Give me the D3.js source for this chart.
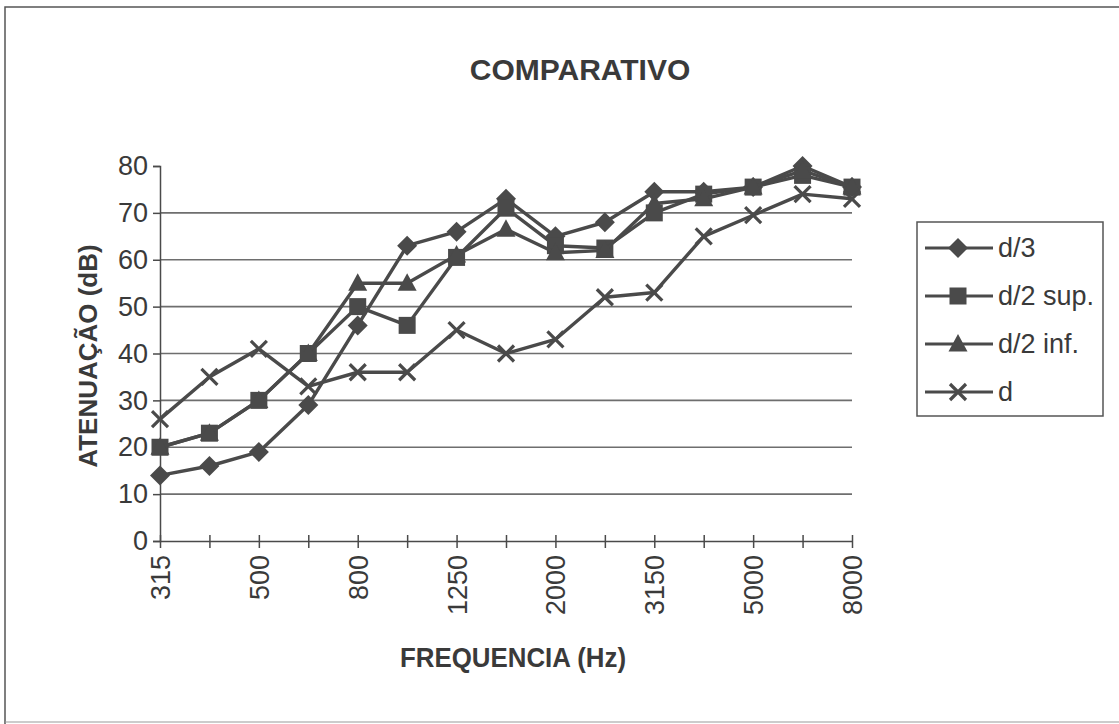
<!DOCTYPE html>
<html>
<head>
<meta charset="utf-8">
<script src="https://cdnjs.cloudflare.com/ajax/libs/d3/7.8.5/d3.min.js"></script>
<style>
  body { margin: 0; background: #fff; }
  svg { display: block; }
  text { font-family: "Liberation Sans", Arial, sans-serif; fill: #3a3a3a; }
</style>
</head>
<body>
<div id="chart"></div>
<script>

/**
 * Comparativo de atenuacao por frequencia, line chart with d3.js
 */

var width = 1119;
var height = 724;

var frequencias = ["315","400","500","630","800","1000","1250","1600","2000","2500","3150","4000","5000","6300","8000"];
var rotulosX = ["315","500","800","1250","2000","3150","5000","8000"];
var ticksY = [0,10,20,30,40,50,60,70,80];

var serieD3    = [14,16,19,29,46,63,66,73,65,68,74.5,74.5,75.5,80,75.5];
var serieD2sup = [20,23,30,40,50,46,60.5,71,63,62.5,70,74,75.5,78,75.5];
var serieD2inf = [20,23,30,40,55,55,61,66.5,61.5,62,72,73,75.5,79,75.5];
var serieD     = [26,35,41,33,36,36,45,40,43,52,53,65,69.5,74,73];

var nomes = ["d/3","d/2 sup.","d/2 inf.","d"];
var simbolos = ["diamond","square","triangle","cross"];

var series = [serieD3, serieD2sup, serieD2inf, serieD].map((v,i) => ({
    nome: nomes[i], simbolo: simbolos[i], valores: v
}));

var cor = "#4a4a4a";
var plot = {left: 160, right: 852, top: 166, bottom: 541};

var x = d3.scalePoint()
        .domain(frequencias)
        .range([plot.left, plot.right]);
var y = d3.scaleLinear()
        .domain([0, 80])
        .range([plot.bottom, plot.top]);

var svg = d3.select("#chart")
        .append("svg")
        .attr("width", width)
        .attr("height", height);

/// moldura do grafico
svg.append("path")
    .attr("d", "M5,724 V7 H1119")
    .attr("fill", "none")
    .attr("stroke", "#555")
    .attr("stroke-width", 1.5);
svg.append("line")
    .attr("x1", 5).attr("x2", 1119)
    .attr("y1", 722).attr("y2", 722)
    .attr("stroke", "#999")
    .attr("stroke-width", 1);

/// titulo
svg.append("text")
    .attr("x", 580)
    .attr("y", 80)
    .attr("text-anchor", "middle")
    .attr("font-size", 30)
    .attr("font-weight", "bold")
    .text("COMPARATIVO");

/// linhas de grade
svg.append("g")
    .selectAll("line")
    .data(ticksY.filter(d => d > 0 && d < 80))
    .enter()
    .append("line")
    .attr("x1", plot.left).attr("x2", plot.right)
    .attr("y1", d => y(d)).attr("y2", d => y(d))
    .attr("stroke", "#6e6e6e")
    .attr("stroke-width", 1.6);

/// eixo Y
var eixoY = svg.append("g")
    .attr("transform", "translate(" + plot.left + ",0)")
    .call(d3.axisLeft(y).tickValues(ticksY).tickSize(7).tickPadding(5));
eixoY.select(".domain").attr("stroke", cor).attr("stroke-width", 1.5);
eixoY.selectAll(".tick line").attr("stroke", cor).attr("stroke-width", 1.5);
eixoY.selectAll(".tick text")
    .attr("font-size", 27)
    .attr("font-family", "Liberation Sans, Arial, sans-serif")
    .attr("fill", "#3a3a3a");

/// eixo X
var eixoX = svg.append("g")
    .attr("transform", "translate(0," + plot.bottom + ")")
    .call(d3.axisBottom(x).tickSize(0).tickFormat(d => rotulosX.includes(d) ? d : ""));
eixoX.select(".domain").attr("stroke", cor).attr("stroke-width", 1.5);
eixoX.selectAll(".tick line")
    .attr("y1", -6).attr("y2", 7)
    .attr("stroke", cor).attr("stroke-width", 1.5);
eixoX.selectAll(".tick text")
    .attr("font-size", 27)
    .attr("font-family", "Liberation Sans, Arial, sans-serif")
    .attr("fill", "#3a3a3a")
    .attr("text-anchor", "end")
    .attr("dy", "0.35em")
    .attr("transform", "translate(0,14) rotate(-90)")
    .attr("x", 0).attr("y", 0);

/// titulos dos eixos
svg.append("text")
    .attr("transform", "translate(97,356) rotate(-90)")
    .attr("text-anchor", "middle")
    .attr("font-size", 26)
    .attr("font-weight", "bold")
    .text("ATENUAÇÃO (dB)");

svg.append("text")
    .attr("x", 400)
    .attr("y", 667)
    .attr("textLength", 226)
    .attr("lengthAdjust", "spacingAndGlyphs")
    .attr("font-size", 28)
    .attr("font-weight", "bold")
    .text("FREQUENCIA (Hz)");

/// simbolos
function desenhaSimbolo(g, tipo, cx, cy) {
    var t = "translate(" + cx + "," + cy + ")";
    if (tipo == "diamond")
        g.append("path").attr("d", "M0,-10 L10,0 L0,10 L-10,0 Z")
            .attr("transform", t).attr("fill", cor);
    else if (tipo == "square")
        g.append("rect").attr("x", cx - 8.5).attr("y", cy - 8.5)
            .attr("width", 17).attr("height", 17).attr("fill", cor);
    else if (tipo == "triangle")
        g.append("path").attr("d", "M0,-10 L9.5,7.5 L-9.5,7.5 Z")
            .attr("transform", t).attr("fill", cor);
    else
        g.append("path").attr("d", "M-8,-8 L8,8 M-8,8 L8,-8")
            .attr("transform", t)
            .attr("stroke", cor).attr("stroke-width", 3.2).attr("fill", "none");
}

var linha = d3.line()
    .x((d,i) => x(frequencias[i]))
    .y(d => y(d));

series.forEach(s => {
    var g = svg.append("g");
    g.append("path")
        .attr("d", linha(s.valores))
        .attr("fill", "none")
        .attr("stroke", cor)
        .attr("stroke-width", 3.4)
        .attr("stroke-linejoin", "round");
    s.valores.forEach((v,i) => desenhaSimbolo(g, s.simbolo, x(frequencias[i]), y(v)));
});

/// legenda
var leg = svg.append("g");
leg.append("rect")
    .attr("x", 917).attr("y", 222)
    .attr("width", 186).attr("height", 194)
    .attr("fill", "#fff")
    .attr("stroke", "#555")
    .attr("stroke-width", 1.5);

var legY = d3.scalePoint().domain(nomes).range([248, 392]);

series.forEach(s => {
    var ly = legY(s.nome);
    leg.append("line")
        .attr("x1", 925).attr("x2", 993)
        .attr("y1", ly).attr("y2", ly)
        .attr("stroke", cor).attr("stroke-width", 3);
    desenhaSimbolo(leg, s.simbolo, 958, ly);
    leg.append("text")
        .attr("x", 998).attr("y", ly)
        .attr("dy", "0.35em")
        .attr("font-size", 27)
        .text(s.nome);
});

</script>
</body>
</html>
